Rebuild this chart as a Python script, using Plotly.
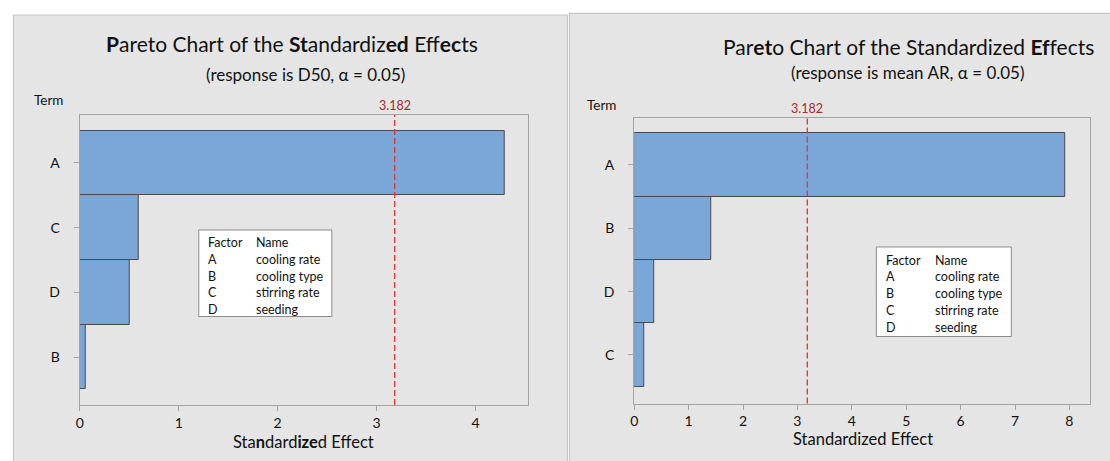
import plotly.graph_objects as go

# ---- data ----
d50_terms = ["A", "C", "D", "B"]
d50_effects = [4.29, 0.60, 0.51, 0.063]

ar_terms = ["A", "B", "D", "C"]
ar_effects = [7.93, 1.42, 0.37, 0.19]

critical_value = 3.182

factor_codes = ["A", "B", "C", "D"]
factor_names = ["cooling rate", "cooling type", "stirring rate", "seeding"]

# ---- styling ----
W, H = 1110, 461
FONT = "Lato"
BAR_FILL = "#7ba6d8"
BAR_EDGE = "#4a4a4a"
PANEL_BG = "#e5e5e5"
PANEL_EDGE = "#c6c6c6"
FRAME = "#a3a3a3"
REF_LINE = "#dd3a3a"
REF_TEXT = "#a52a2a"
TXT = "#111111"


def px(x):
    return x / W


def py(y):
    return 1 - y / H


fig = go.Figure()

fig.add_trace(go.Bar(
    x=d50_effects, y=list(range(len(d50_terms))), orientation="h", width=1.0,
    marker=dict(color=BAR_FILL, line=dict(color=BAR_EDGE, width=1)),
    xaxis="x", yaxis="y", showlegend=False, hoverinfo="skip"))

fig.add_trace(go.Bar(
    x=ar_effects, y=list(range(len(ar_terms))), orientation="h", width=1.0,
    marker=dict(color=BAR_FILL, line=dict(color=BAR_EDGE, width=1)),
    xaxis="x2", yaxis="y2", showlegend=False, hoverinfo="skip"))

axis_common = dict(showgrid=False, zeroline=False, showline=True, mirror=True,
                   linecolor=FRAME, linewidth=1.2, ticks="outside", ticklen=5,
                   tickcolor=FRAME, tickfont=dict(family=FONT, size=14, color=TXT))

fig.update_layout(
    width=W, height=H, margin=dict(l=0, r=0, t=0, b=0),
    paper_bgcolor="white", plot_bgcolor="white", bargap=0,
    font=dict(family=FONT, color=TXT),
    xaxis=dict(domain=[px(76), px(526)], range=[0, 4.53], anchor="y",
               tickvals=[0, 1, 2, 3, 4], **axis_common),
    yaxis=dict(domain=[py(405), py(115)], range=[3.742, -0.742], anchor="x",
               tickvals=list(range(len(d50_terms))), ticktext=d50_terms,
               ticklabelstandoff=11, **axis_common),
    xaxis2=dict(domain=[px(632.5), px(1090)], range=[0, 8.38], anchor="y2",
                tickvals=list(range(9)), **axis_common),
    yaxis2=dict(domain=[py(403.5), py(118)], range=[3.766, -0.742], anchor="x2",
                tickvals=list(range(len(ar_terms))), ticktext=ar_terms,
                ticklabelstandoff=11, **axis_common),
)

shapes = [
    # panel backgrounds
    dict(type="rect", xref="paper", yref="paper", x0=px(9.5), x1=px(565.5),
         y0=py(470), y1=py(15), fillcolor=PANEL_BG,
         line=dict(color=PANEL_EDGE, width=1.2), layer="below"),
    dict(type="rect", xref="paper", yref="paper", x0=px(567.5), x1=px(1115),
         y0=py(470), y1=py(13.3), fillcolor=PANEL_BG,
         line=dict(color=PANEL_EDGE, width=1.2), layer="below"),
    # critical value reference lines
    dict(type="line", xref="x", yref="y domain", x0=critical_value, x1=critical_value,
         y0=0, y1=1, line=dict(color=REF_LINE, width=1.4, dash="6px,3px")),
    dict(type="line", xref="x2", yref="y2 domain", x0=critical_value, x1=critical_value,
         y0=0, y1=1, line=dict(color=REF_LINE, width=1.4, dash="6px,3px")),
    # factor key boxes
    dict(type="rect", xref="paper", yref="paper", x0=px(195.5), x1=px(329),
         y0=py(316.5), y1=py(230), fillcolor="white",
         line=dict(color="#8c8c8c", width=1)),
    dict(type="rect", xref="paper", yref="paper", x0=px(875.5), x1=px(1011),
         y0=py(336.5), y1=py(247), fillcolor="white",
         line=dict(color="#8c8c8c", width=1)),
]

annotations = []


def text(x, y, s, size, xanchor="center", color=TXT, xref="paper"):
    annotations.append(dict(x=px(x) if xref == "paper" else x, y=py(y),
                            xref=xref, yref="paper", text=s, showarrow=False,
                            xanchor=xanchor, yanchor="middle",
                            font=dict(family=FONT, size=size, color=color)))


# titles
text(289, 44, "<b>P</b>areto Chart of the <b>St</b>andardiz<b>ed</b> Eff<b>ec</b>ts", 21)
text(303, 74, "(response is D50, α = 0.05)", 17)
text(908, 46.5, "Par<b>et</b>o Chart of the Standardized <b>Ef</b>fects", 21)
text(907, 72.5, "(response is mean AR, α = 0.05)", 17)

# axis labels
text(28, 100, "Term", 13.5, xanchor="left")
text(583, 105, "Term", 13.5, xanchor="left")
text(301, 442, "Sta<b>n</b>dard<b>ize</b>d Effect", 16.5)
text(862, 439, "Standardized Effect", 16.5)

# critical value labels
text(critical_value, 105.5, f"{critical_value:.3f}", 12.5, color=REF_TEXT, xref="x")
text(critical_value, 108, f"{critical_value:.3f}", 12.5, color=REF_TEXT, xref="x2")

# factor keys
left_rows = [243, 259.5, 276, 292.5, 309]
right_rows = [260, 276.8, 293.6, 310.4, 327.2]
for rows, xc, xn in ((left_rows, 203, 251), (right_rows, 883.5, 932)):
    text(xc, rows[0], "Factor", 12.5, xanchor="left")
    text(xn, rows[0], "Name", 12.5, xanchor="left")
    for r, code, name in zip(rows[1:], factor_codes, factor_names):
        text(xc, r, code, 12.5, xanchor="left")
        text(xn, r, name, 12.5, xanchor="left")

fig.update_layout(shapes=shapes, annotations=annotations)

fig.write_html("out.html")
